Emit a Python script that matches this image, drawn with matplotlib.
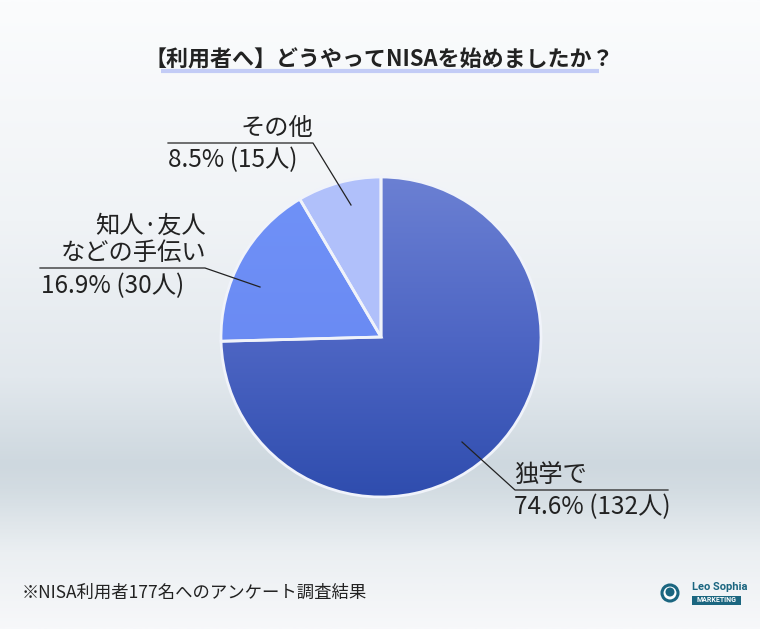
import numpy as np
import matplotlib
matplotlib.use("Agg")
import matplotlib.pyplot as plt
from matplotlib.colors import LinearSegmentedColormap
from matplotlib.patches import Rectangle, Circle, PathPatch

plt.rcParams['font.family'] = ['Noto Sans CJK JP', 'DejaVu Sans']

# ---- data ----
title = "【利用者へ】どうやってNISAを始めましたか？"
categories = ["独学で", "知人·友人\nなどの手伝い", "その他"]
counts = [132, 30, 15]
percents = ["74.6%", "16.9%", "8.5%"]
footnote = "※NISA利用者177名へのアンケート調査結果"

W, H = 760, 629
fig = plt.figure(figsize=(W / 100, H / 100), dpi=100)
ax = fig.add_axes([0, 0, 1, 1])

# background gradient
stops = [(0.0, "#fbfcfd"), (0.35, "#f0f3f6"), (0.6, "#e2e8ed"), (0.74, "#ced8df"),
         (0.78, "#d3dce2"), (0.88, "#ebeff2"), (1.0, "#f7f8fa")]
bg_cmap = LinearSegmentedColormap.from_list("bg", stops)
grad = np.linspace(0, 1, 400).reshape(-1, 1)
ax.imshow(grad, cmap=bg_cmap, extent=(0, W, H, 0), origin="upper", aspect="auto", zorder=0)

# pie (y axis inverted: startangle -90 = top, counterclock=True = visual clockwise)
cx, cy, r = 381, 337, 160
colors = ["#5068c6", "#6e8cf5", "#b0c0fa"]
wedges, _ = ax.pie(counts, startangle=-90, counterclock=True, center=(cx, cy), radius=r,
                   colors=colors, wedgeprops=dict(edgecolor="none", linewidth=0),
                   frame=True)
for w in wedges:
    w.set_zorder(2)

# gradients clipped to wedges
big_cmap = LinearSegmentedColormap.from_list("big", ["#6b80d3", "#4e66c4", "#2f4dae"])
gimg = ax.imshow(grad, cmap=big_cmap, extent=(cx - r, cx + r, cy + r, cy - r), origin="upper",
                 aspect="auto", zorder=3)
gimg.set_clip_path(wedges[0])
mid_cmap = LinearSegmentedColormap.from_list("mid", ["#7092f8", "#6584ee"])
mimg = ax.imshow(grad, cmap=mid_cmap, extent=(cx - r, cx + r, cy + r, cy - r), origin="upper",
                 aspect="auto", zorder=3)
mimg.set_clip_path(wedges[1])
# separators on top
for w in wedges:
    p = w.get_path().transformed(w.get_patch_transform())
    ax.add_patch(PathPatch(p, fill=False, edgecolor="#f0f3fa", linewidth=2.0, zorder=4))

ax.set_xlim(0, W)
ax.set_ylim(H, 0)
ax.set_aspect("auto")
ax.axis("off")

# title
ax.text(W / 2 - 1, 60, title, ha="center", va="center", fontsize=15.8, fontweight="bold",
        color="#222222", zorder=6)
ax.plot([161, 599], [70.5, 70.5], color="#c3ccf6", lw=3, solid_capstyle="butt", zorder=5)

tc = "#222222"
fs = 17.5
# その他
ax.plot([351, 313, 168], [205, 143, 143], color="#222222", lw=0.9, zorder=6)
ax.text(313, 141, categories[2], ha="right", va="bottom", fontsize=fs, color=tc, zorder=6)
ax.text(168, 147, f"{percents[2]} ({counts[2]}人)", ha="left", va="top", fontsize=fs, color=tc, zorder=6)
# 知人
ax.plot([260, 205, 40], [287, 268, 268], color="#222222", lw=0.9, zorder=6)
ax.text(206, 266, categories[1], ha="right", va="bottom", fontsize=fs, color=tc,
        multialignment="right", linespacing=1.05, zorder=6)
ax.text(41, 273, f"{percents[1]} ({counts[1]}人)", ha="left", va="top", fontsize=fs, color=tc, zorder=6)
# 独学で
ax.plot([462, 515, 668], [442, 490, 490], color="#222222", lw=0.9, zorder=6)
ax.text(514, 488, categories[0], ha="left", va="bottom", fontsize=fs, color=tc, zorder=6)
ax.text(514, 494, f"{percents[0]} ({counts[0]}人)", ha="left", va="top", fontsize=fs, color=tc, zorder=6)

# footnote
ax.text(22, 593, footnote, ha="left", va="center", fontsize=12.5, color="#222222", zorder=6)

# logo
teal = "#1b6680"
ax.add_patch(Circle((670, 593), 8, facecolor="white", edgecolor=teal, lw=2.2, zorder=6))
ax.add_patch(Circle((670, 592), 4.5, facecolor=teal, edgecolor="none", zorder=7))
ax.text(692, 587, "Leo Sophia", ha="left", va="center", fontsize=8, fontweight="bold",
        color=teal, family=["Roboto", "DejaVu Sans"], zorder=6)
ax.add_patch(Rectangle((692, 596), 49, 9, facecolor=teal, edgecolor="none", zorder=6))
ax.text(716.5, 600.5, "MARKETING", ha="center", va="center", fontsize=5, fontweight="bold",
        color="white", family=["Roboto", "DejaVu Sans"], zorder=7)

fig.savefig("out.png", dpi=100)
